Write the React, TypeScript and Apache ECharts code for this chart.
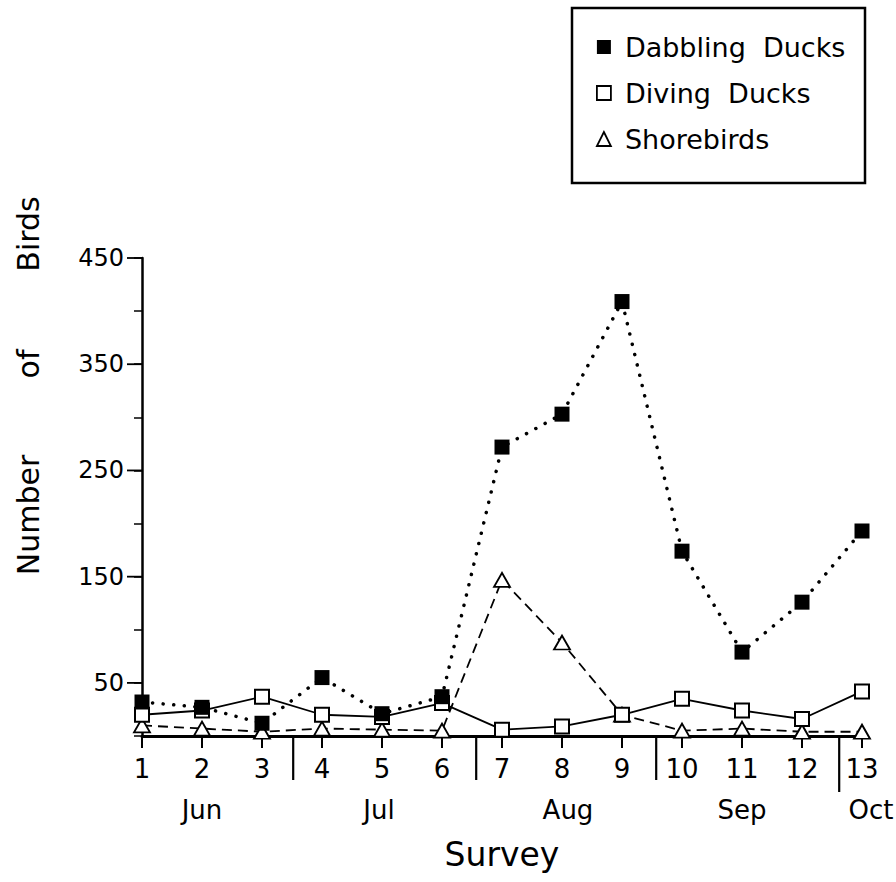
import React, { useEffect, useRef } from 'react';
import * as echarts from 'echarts';

const surveys = [1, 2, 3, 4, 5, 6, 7, 8, 9, 10, 11, 12, 13];
const dabbling = [32, 27, 12, 55, 21, 37, 272, 303, 409, 174, 79, 126, 193];
const diving = [20, 24, 37, 20, 18, 31, 6, 9, 20, 35, 24, 16, 42];
const shorebirds = [10, 7, 4, 7, 6, 5, 147, 88, 20, 5, 7, 4, 4];
const yTickLabels = [50, 150, 250, 350, 450];
const months = ['Jun', 'Jul', 'Aug', 'Sep', 'Oct'];
const monthCenters = [2, 4.95, 8.1, 11, 13.15];
const monthBreaks = [3.52, 6.57, 9.57, 12.62];
const yNameWords = ['Number', 'of', 'Birds'];

const FONT = 'DejaVu Sans';

export default function App() {
  const ref = useRef<HTMLDivElement>(null);
  useEffect(() => {
    if (!ref.current) return;
    const chart = echarts.init(ref.current, undefined, { renderer: 'svg' });
    const pair = (arr: number[]) => surveys.map((s, i) => [s, arr[i]]);
    const yNameCenters = [515, 364, 234];
    const option: any = {
      animation: false,
      backgroundColor: '#fff',
      textStyle: { fontFamily: FONT, color: '#000' },
      grid: { left: 142, right: 34, top: 258, bottom: 146, containLabel: false, outerBoundsMode: 'none' },
      legend: {
        orient: 'vertical',
        left: 596,
        top: 32,
        padding: 0,
        itemGap: 16,
        itemWidth: 14,
        itemHeight: 14,
        textStyle: { fontFamily: FONT, fontSize: 27, color: '#000', lineHeight: 30, padding: [0, 0, 0, 9] },
        data: [
          { name: 'Dabbling  Ducks', icon: 'rect', itemStyle: { color: '#000', borderColor: '#000', borderWidth: 0 } },
          { name: 'Diving  Ducks', icon: 'rect', itemStyle: { color: '#fff', borderColor: '#000', borderWidth: 1.8 } },
          { name: 'Shorebirds', icon: 'triangle', itemStyle: { color: '#fff', borderColor: '#000', borderWidth: 1.8 } },
        ],
      },
      graphic: [
        { type: 'rect', shape: { x: 572, y: 8, width: 293, height: 175 }, style: { fill: 'none', stroke: '#000', lineWidth: 2.5 }, z: 0 },
        ...yNameWords.map((w, i) => ({
          type: 'text',
          x: 28,
          y: yNameCenters[i],
          rotation: Math.PI / 2,
          style: { text: w, font: `30px "${FONT}"`, fill: '#000', align: 'center', verticalAlign: 'middle' },
        })),
      ],
      xAxis: {
        type: 'value',
        min: 1,
        max: 13,
        interval: 1,
        name: 'Survey',
        nameLocation: 'middle',
        nameGap: 102,
        nameTextStyle: { fontFamily: FONT, fontSize: 33, color: '#000' },
        axisLine: { show: true, onZero: false, lineStyle: { color: '#000', width: 3 } },
        axisTick: { show: true, inside: false, length: 12, lineStyle: { color: '#000', width: 2 } },
        axisLabel: { fontFamily: FONT, fontSize: 26, color: '#000', margin: 20 },
        splitLine: { show: false },
      },
      yAxis: {
        type: 'value',
        min: 0,
        max: 450,
        interval: 50,
        axisLine: { show: true, lineStyle: { color: '#000', width: 2.5 } },
        axisTick: { show: true, inside: false, length: 8, lineStyle: { color: '#000', width: 1.5 } },
        axisLabel: {
          fontFamily: FONT,
          fontSize: 24,
          color: '#000',
          margin: 18,
          formatter: (v: number) => (yTickLabels.includes(v) ? String(v) : ''),
        },
        splitLine: { show: false },
      },
      series: [
        {
          name: 'Shorebirds',
          type: 'line',
          data: pair(shorebirds),
          symbol: 'triangle',
          symbolSize: [16, 14],
          itemStyle: { color: '#fff', borderColor: '#000', borderWidth: 1.8 },
          lineStyle: { color: '#000', width: 1.8, type: [10, 6] },
          z: 3,
        },
        {
          name: 'Diving  Ducks',
          type: 'line',
          data: pair(diving),
          symbol: 'rect',
          symbolSize: 14,
          itemStyle: { color: '#fff', borderColor: '#000', borderWidth: 2 },
          lineStyle: { color: '#000', width: 1.8, type: 'solid' },
          z: 4,
        },
        {
          name: 'Dabbling  Ducks',
          type: 'line',
          data: pair(dabbling),
          symbol: 'rect',
          symbolSize: 15,
          itemStyle: { color: '#000', borderColor: '#000', borderWidth: 0 },
          lineStyle: { color: '#000', width: 3.5, type: [0.1, 10.5], cap: 'round' },
          z: 5,
        },
        {
          name: 'majorTicks',
          type: 'custom',
          clip: false,
          silent: true,
          data: yTickLabels.map((v) => [1, v]),
          encode: { x: 0, y: 1 },
          renderItem: (params: any, api: any) => {
            const p = api.coord([api.value(0), api.value(1)]);
            return {
              type: 'line',
              shape: { x1: p[0] - 15, y1: p[1], x2: p[0], y2: p[1] },
              style: { stroke: '#000', lineWidth: 1.8 },
            };
          },
        },
        {
          name: 'breaks',
          type: 'custom',
          clip: false,
          silent: true,
          data: monthBreaks.map((b) => [b, 0]),
          encode: { x: 0, y: 1 },
          renderItem: (params: any, api: any) => {
            const p = api.coord([api.value(0), 0]);
            const len = params.dataIndex === monthBreaks.length - 1 ? 56 : 44;
            return {
              type: 'line',
              shape: { x1: p[0], y1: p[1], x2: p[0], y2: p[1] + len },
              style: { stroke: '#000', lineWidth: 2.2 },
            };
          },
        },
        {
          name: 'months',
          type: 'custom',
          clip: false,
          silent: true,
          data: monthCenters.map((m) => [m, 0]),
          encode: { x: 0, y: 1 },
          renderItem: (params: any, api: any) => {
            const p = api.coord([api.value(0), 0]);
            return {
              type: 'text',
              x: p[0],
              y: p[1] + 74,
              style: {
                text: months[params.dataIndex],
                font: `26px "${FONT}"`,
                fill: '#000',
                align: 'center',
                verticalAlign: 'middle',
              },
            };
          },
        },
      ],
    };
    chart.setOption(option);
    return () => chart.dispose();
  }, []);
  return (
    <div
      ref={ref}
      style={{ position: 'fixed', left: 0, top: 0, width: 896, height: 882, background: '#fff' }}
    />
  );
}
